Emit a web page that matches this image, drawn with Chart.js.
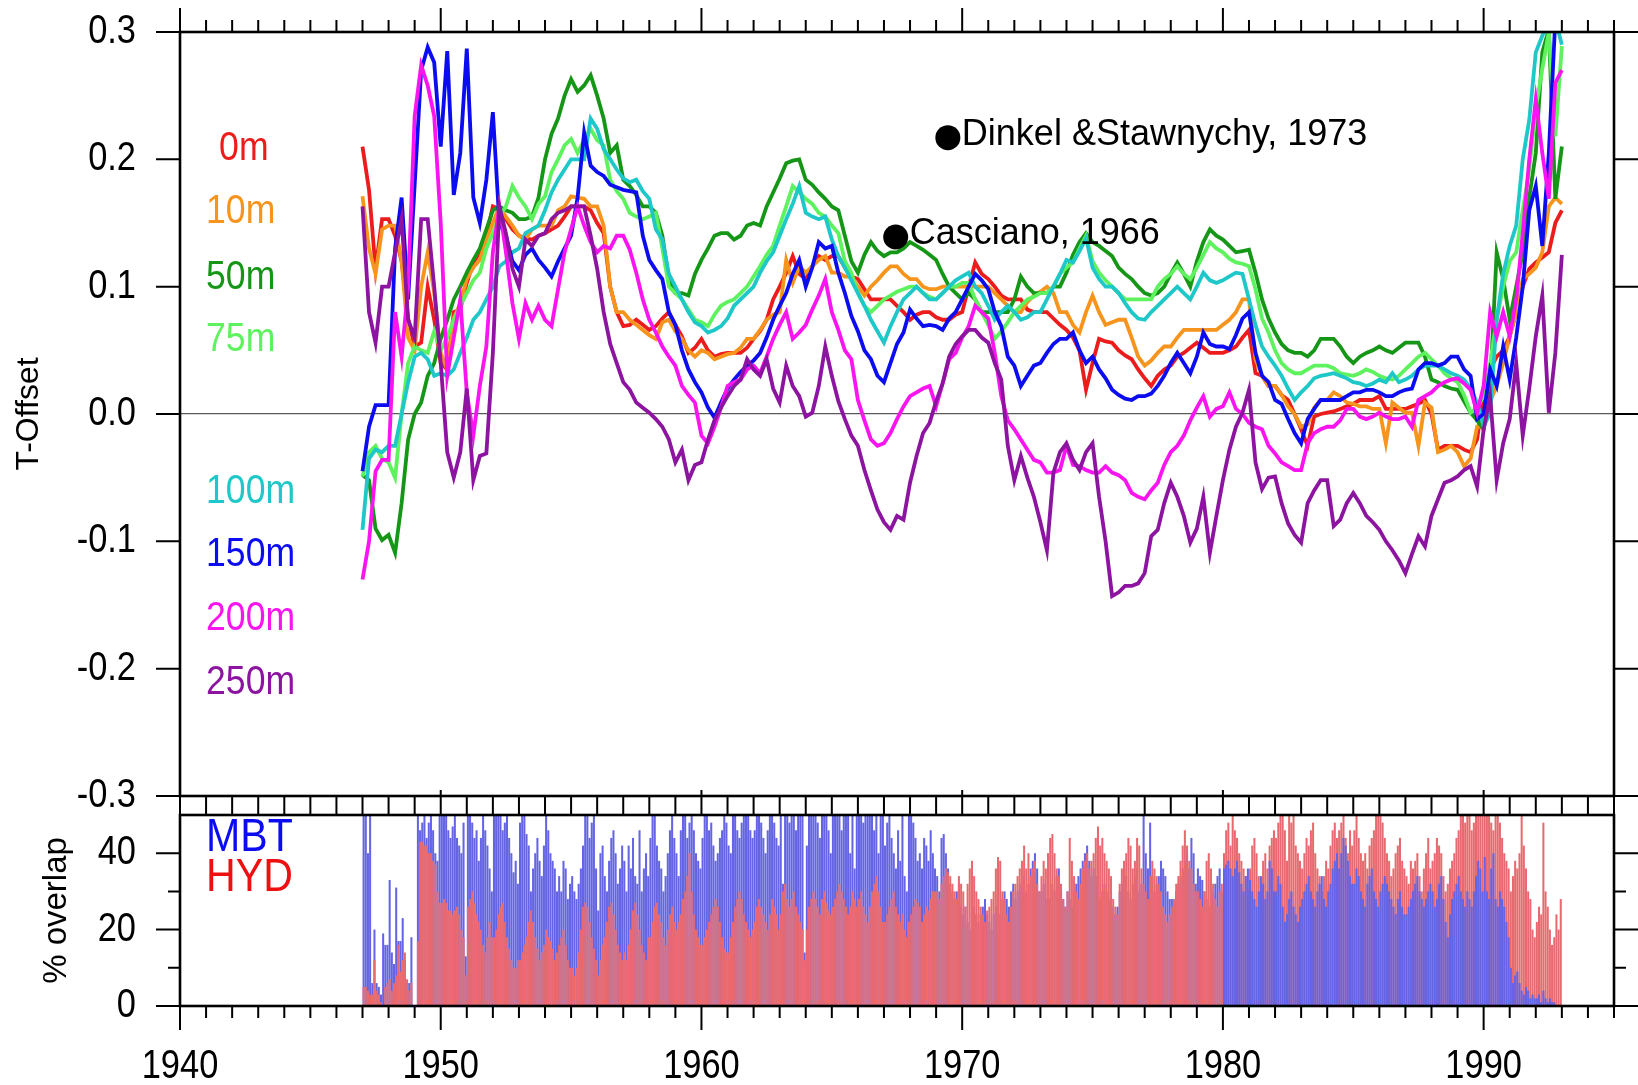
<!DOCTYPE html>
<html>
<head>
<meta charset="utf-8">
<script src="https://cdn.jsdelivr.net/npm/chart.js@4.4.1/dist/chart.umd.min.js"></script>
<style>
  html, body { margin: 0; padding: 0; background: #fff; width: 1638px; height: 1085px; overflow: hidden; }
  canvas { position: absolute; left: 0; top: 0; }
</style>
</head>
<body>
<canvas id="offsetChart" width="1638" height="1085"></canvas>
<canvas id="overlapChart" width="1638" height="1085"></canvas>
<script>
// ---- temperature offset by depth, quarterly from 1947.0 ----
const seriesStart = 1947;
const seriesStep = 0.25;

const offset0m = [
  0.21, 0.176, 0.114, 0.153,   0.153, 0.14, 0.12, 0.075,   0.053, 0.056, 0.1, 0.074,
  0.04, 0.035, 0.08, 0.082,    0.103, 0.119, 0.127, 0.14,  0.163, 0.161, 0.153, 0.145,
  0.14, 0.138, 0.137, 0.14,    0.142, 0.145, 0.148, 0.155, 0.163, 0.163, 0.163, 0.16,
  0.15, 0.142, 0.1, 0.08,      0.069, 0.07, 0.074, 0.07,   0.066, 0.069, 0.075, 0.08,
  0.07, 0.061, 0.048, 0.052,   0.059, 0.05, 0.045, 0.047,  0.048, 0.048, 0.048, 0.052,
  0.059, 0.065, 0.074, 0.09,   0.1, 0.111, 0.124, 0.11,    0.106, 0.116, 0.124, 0.121,
  0.124, 0.124, 0.115, 0.108,  0.106, 0.098, 0.09, 0.09,   0.09, 0.09, 0.085, 0.08,
  0.074, 0.078, 0.08, 0.08,    0.076, 0.074, 0.074, 0.078, 0.08, 0.1, 0.119, 0.11,
  0.106, 0.1, 0.093, 0.09,     0.09, 0.09, 0.082, 0.08,    0.08, 0.08, 0.075, 0.07,
  0.066, 0.06, 0.05, 0.019,    0.04, 0.059, 0.057, 0.056,  0.05, 0.046, 0.043, 0.035,
  0.028, 0.022, 0.03, 0.035,   0.038, 0.045, 0.048, 0.052, 0.056, 0.052, 0.048, 0.048,
  0.048, 0.05, 0.053, 0.06,    0.066, 0.032, 0.03, 0.022,  0.022, 0.015, 0.011, 0.0,
  -0.012, -0.025, -0.002, 0.0, 0.001, 0.002, 0.004, 0.006, 0.008, 0.011, 0.011, 0.011,
  0.014, 0.004, 0.004, 0.004,  0.004, 0.006, 0.008, 0.011, 0.0, -0.028, -0.025, -0.025,
  -0.025, -0.028, -0.03, -0.02, 0.017, 0.035, 0.045, 0.05, 0.061, 0.08, 0.1, 0.114,
  0.119, 0.123, 0.127, 0.15,   0.16
];
const offset10m = [
  0.171, 0.13, 0.11, 0.145,    0.148, 0.148, 0.12, 0.06,   0.05, 0.1, 0.127, 0.095,
  0.048, 0.035, 0.075, 0.087,  0.106, 0.115, 0.121, 0.137, 0.15, 0.163, 0.155, 0.148,
  0.14, 0.137, 0.145, 0.148,   0.148, 0.148, 0.16, 0.163,  0.171, 0.17, 0.169, 0.163,
  0.163, 0.148, 0.1, 0.08,     0.08, 0.074, 0.07, 0.066,   0.062, 0.059, 0.072, 0.074,
  0.065, 0.059, 0.05, 0.045,   0.05, 0.048, 0.043, 0.045,  0.047, 0.048, 0.052, 0.059,
  0.059, 0.066, 0.074, 0.078,  0.08, 0.121, 0.103, 0.116,  0.111, 0.116, 0.121, 0.124,
  0.111, 0.111, 0.108, 0.108,  0.1, 0.093, 0.1, 0.105,     0.111, 0.116, 0.116, 0.11,
  0.106, 0.106, 0.1, 0.098,    0.098, 0.1, 0.1, 0.1,       0.1, 0.1, 0.1, 0.1,
  0.1, 0.095, 0.09, 0.085,     0.08, 0.08, 0.088, 0.093,   0.096, 0.1, 0.095, 0.08,
  0.08, 0.07, 0.064, 0.08,     0.093, 0.08, 0.07, 0.072,   0.074, 0.074, 0.06, 0.045,
  0.038, 0.042, 0.048, 0.053,  0.053, 0.06, 0.066, 0.066,  0.066, 0.066, 0.066, 0.066,
  0.07, 0.074, 0.08, 0.09,     0.09, 0.043, 0.03, 0.022,   0.022, 0.015, 0.006, 0.0,
  -0.01, -0.008, 0.005, 0.011, 0.011, 0.017, 0.014, 0.009, 0.008, 0.006, 0.006, 0.004,
  0.004, -0.023, 0.009, 0.005, 0.001, 0.001, -0.025, 0.009, 0.005, -0.03, -0.028, -0.025,
  -0.03, -0.041, -0.035, -0.01, -0.01, 0.01, 0.022, 0.04,  0.061, 0.08, 0.106, 0.11,
  0.115, 0.127, 0.163, 0.17,   0.165
];
const offset50m = [
  -0.048, -0.052, -0.09, -0.099, -0.095, -0.109, -0.07, -0.02, 0.0, 0.009, 0.03, 0.04,
  0.059, 0.074, 0.09, 0.1,     0.111, 0.121, 0.13, 0.145,  0.16, 0.163, 0.16, 0.158,
  0.153, 0.153, 0.155, 0.17,   0.2, 0.22, 0.232, 0.25,     0.263, 0.253, 0.258, 0.266,
  0.25, 0.232, 0.205, 0.211,   0.184, 0.179, 0.172, 0.163, 0.163, 0.158, 0.14, 0.106,
  0.095, 0.095, 0.093, 0.11,   0.121, 0.13, 0.14, 0.142,   0.142, 0.137, 0.14, 0.148,
  0.15, 0.148, 0.163, 0.174,   0.185, 0.197, 0.199, 0.2,   0.184, 0.18, 0.174, 0.169,
  0.163, 0.16, 0.14, 0.12,     0.111, 0.125, 0.135, 0.128, 0.124, 0.127, 0.127, 0.13,
  0.135, 0.132, 0.129, 0.125,  0.121, 0.11, 0.1, 0.095,    0.09, 0.095, 0.09, 0.08,
  0.08, 0.08, 0.08, 0.08,      0.09, 0.108, 0.1, 0.095,    0.095, 0.095, 0.1, 0.1,
  0.111, 0.125, 0.135, 0.142,  0.135, 0.132, 0.128, 0.124, 0.115, 0.11, 0.106, 0.1,
  0.095, 0.093, 0.095, 0.1,    0.11, 0.119, 0.11, 0.1,     0.12, 0.135, 0.145, 0.14,
  0.137, 0.132, 0.127, 0.128,  0.129, 0.111, 0.09, 0.075,  0.064, 0.055, 0.05, 0.048,
  0.048, 0.045, 0.05, 0.059,   0.059, 0.059, 0.053, 0.045, 0.04, 0.045, 0.048, 0.05,
  0.053, 0.05, 0.048, 0.052,   0.056, 0.056, 0.056, 0.045, 0.027, 0.025, 0.022, 0.02,
  0.019, 0.01, 0.001, -0.005,  -0.012, 0.022, 0.127, 0.106, 0.074, 0.1, 0.127, 0.17,
  0.205, 0.284, 0.302, 0.169,  0.21
];
const offset75m = [
  -0.049, -0.03, -0.025, -0.035, -0.038, -0.05, 0.0, 0.04, 0.053, 0.05, 0.048, 0.065,
  0.05, 0.06, 0.074, 0.085,    0.095, 0.105, 0.111, 0.13,  0.142, 0.155, 0.163, 0.179,
  0.17, 0.163, 0.153, 0.165,   0.171, 0.19, 0.2, 0.211,    0.216, 0.205, 0.215, 0.224,
  0.215, 0.211, 0.184, 0.175,  0.169, 0.158, 0.155, 0.153, 0.155, 0.158, 0.13, 0.1,
  0.095, 0.09, 0.082, 0.074,   0.072, 0.069, 0.078, 0.085, 0.088, 0.09, 0.095, 0.1,
  0.108, 0.116, 0.125, 0.132,  0.148, 0.163, 0.179, 0.174, 0.169, 0.165, 0.158, 0.155,
  0.148, 0.142, 0.12, 0.111,   0.095, 0.085, 0.08, 0.085,  0.09, 0.093, 0.096, 0.098,
  0.1, 0.1, 0.095, 0.092,      0.09, 0.095, 0.1, 0.1,      0.103, 0.103, 0.09, 0.08,
  0.07, 0.059, 0.065, 0.072,   0.08, 0.085, 0.09, 0.092,   0.095, 0.095, 0.1, 0.11,
  0.115, 0.119, 0.13, 0.14,    0.12, 0.111, 0.105, 0.1,    0.095, 0.09, 0.09, 0.09,
  0.09, 0.09, 0.1, 0.106,      0.11, 0.116, 0.11, 0.106,   0.115, 0.125, 0.135, 0.13,
  0.127, 0.122, 0.119, 0.118,  0.116, 0.098, 0.075, 0.064, 0.05, 0.04, 0.035, 0.032,
  0.032, 0.035, 0.038, 0.038,  0.038, 0.036, 0.032, 0.031, 0.03, 0.032, 0.035, 0.033,
  0.03, 0.028, 0.027, 0.03,    0.035, 0.04, 0.045, 0.048,  0.043, 0.038, 0.032, 0.028,
  0.025, 0.015, 0.001, 0.005,  0.014, 0.04, 0.074, 0.1,    0.12, 0.127, 0.16, 0.192,
  0.24, 0.271, 0.3, 0.218,     0.289
];
const offset100m = [
  -0.091, -0.035, -0.028, -0.03, -0.025, -0.025, 0.0, 0.025, 0.045, 0.048, 0.043, 0.03,
  0.032, 0.03, 0.035, 0.048,   0.06, 0.074, 0.08, 0.09,    0.1, 0.116, 0.12, 0.127,
  0.13, 0.142, 0.145, 0.148,   0.16, 0.174, 0.184, 0.192,  0.2, 0.2, 0.2, 0.232,
  0.224, 0.208, 0.2, 0.192,    0.185, 0.182, 0.184, 0.175, 0.169, 0.145, 0.137, 0.11,
  0.1, 0.09, 0.08, 0.072,      0.069, 0.064, 0.066, 0.069, 0.075, 0.085, 0.09, 0.095,
  0.1, 0.111, 0.12, 0.127,     0.14, 0.153, 0.165, 0.179,  0.158, 0.155, 0.153, 0.155,
  0.137, 0.124, 0.115, 0.105,  0.095, 0.085, 0.074, 0.065, 0.056, 0.069, 0.08, 0.09,
  0.095, 0.1, 0.095, 0.09,     0.09, 0.095, 0.1, 0.105,    0.108, 0.111, 0.1, 0.095,
  0.085, 0.074, 0.08, 0.085,   0.08, 0.074, 0.076, 0.08,   0.08, 0.09, 0.1, 0.11,
  0.121, 0.119, 0.128, 0.138,  0.115, 0.106, 0.1, 0.1,     0.095, 0.087, 0.08, 0.075,
  0.074, 0.08, 0.085, 0.09,    0.095, 0.1, 0.095, 0.09,    0.1, 0.111, 0.105, 0.103,
  0.105, 0.108, 0.111, 0.11,   0.09, 0.07, 0.053, 0.045,   0.038, 0.03, 0.02, 0.011,
  0.017, 0.022, 0.028, 0.03,   0.031, 0.032, 0.03, 0.028,  0.025, 0.024, 0.022, 0.024,
  0.027, 0.025, 0.032, 0.025,  0.027, 0.03, 0.035, 0.038,  0.038, 0.038, 0.035, 0.032,
  0.03, 0.027, 0.02, 0.009,    -0.01, 0.001, 0.074, 0.11,  0.132, 0.148, 0.2, 0.231,
  0.284, 0.297, 0.31, 0.31,    0.29
];
const offset150m = [
  -0.045, -0.01, 0.007, 0.007, 0.007, 0.13, 0.17, 0.09,    0.18, 0.27, 0.288, 0.276,
  0.21, 0.285, 0.172, 0.205,   0.287, 0.17, 0.15, 0.184,   0.237, 0.15, 0.14, 0.12,
  0.113, 0.125, 0.13, 0.121,   0.115, 0.108, 0.12, 0.13,   0.14, 0.17, 0.221, 0.195,
  0.19, 0.187, 0.18, 0.178,    0.176, 0.175, 0.174, 0.14,  0.121, 0.113, 0.106, 0.08,
  0.07, 0.05, 0.035, 0.025,    0.017, 0.005, -0.003, 0.009, 0.02, 0.027, 0.033, 0.038,
  0.042, 0.048, 0.06, 0.074,   0.085, 0.095, 0.11, 0.121,  0.1, 0.115, 0.135, 0.13,
  0.132, 0.111, 0.095, 0.077,  0.065, 0.05, 0.043, 0.03,   0.025, 0.04, 0.055, 0.064,
  0.082, 0.075, 0.069, 0.07,   0.069, 0.066, 0.075, 0.08,  0.09, 0.1, 0.11, 0.105,
  0.098, 0.08, 0.069, 0.045,   0.038, 0.022, 0.03, 0.038,  0.04, 0.048, 0.055, 0.059,
  0.059, 0.064, 0.05, 0.04,    0.045, 0.035, 0.028, 0.019, 0.015, 0.012, 0.011, 0.014,
  0.014, 0.016, 0.022, 0.03,   0.04, 0.048, 0.04, 0.032,   0.045, 0.064, 0.055, 0.053,
  0.053, 0.051, 0.062, 0.075,  0.08, 0.048, 0.03, 0.025,   0.011, 0.008, -0.004, -0.015,
  -0.023, -0.004, 0.004, 0.011, 0.011, 0.011, 0.011, 0.014, 0.017, 0.017, 0.019, 0.019,
  0.017, 0.014, 0.014, 0.017,  0.019, 0.02, 0.035, 0.04,   0.04, 0.038, 0.04, 0.045,
  0.045, 0.035, 0.03, -0.004,  0.0, 0.035, 0.022, 0.053,   0.027, 0.06, 0.1, 0.16,
  0.179, 0.132, 0.205, 0.31,   0.32
];
const offset200m = [
  -0.13, -0.1, -0.045, -0.036, -0.036, 0.08, 0.045, 0.1,   0.234, 0.274, 0.258, 0.234,
  0.15, 0.03, 0.06, 0.09,      0.017, -0.017, 0.022, 0.053, 0.127, 0.163, 0.127, 0.087,
  0.059, 0.087, 0.074, 0.085,  0.074, 0.069, 0.098, 0.127, 0.145, 0.163, 0.148, 0.135,
  0.127, 0.132, 0.13, 0.14,    0.14, 0.129, 0.111, 0.09,   0.074, 0.064, 0.053, 0.045,
  0.038, 0.022, 0.015, 0.009,  -0.017, -0.023, -0.01, 0.005, 0.022, 0.025, 0.027, 0.035,
  0.038, 0.032, 0.045, 0.059,  0.07, 0.08, 0.059, 0.064,   0.07, 0.082, 0.093, 0.106,
  0.08, 0.066, 0.05, 0.043,    0.011, -0.005, -0.02, -0.025, -0.023, -0.015, -0.004, 0.006,
  0.014, 0.017, 0.02, 0.022,   0.006, 0.024, 0.043, 0.048, 0.06, 0.069, 0.085, 0.08,
  0.075, 0.048, 0.014, -0.005, -0.012, -0.02, -0.028, -0.036, -0.038, -0.046, -0.046, -0.044,
  -0.025, -0.04, -0.041, -0.044, -0.046, -0.046, -0.041, -0.046, -0.048, -0.052, -0.062, -0.065,
  -0.067, -0.06, -0.054, -0.04, -0.03, -0.025, -0.017, -0.005, 0.005, 0.014, -0.002, 0.004,
  0.006, 0.017, 0.004, 0.0,    -0.007, -0.01, -0.012, -0.025, -0.031, -0.038, -0.041, -0.044,
  -0.044, -0.023, -0.015, -0.012, -0.01, -0.01, -0.005, 0.004, 0.004, -0.002, -0.004, -0.002,
  0.001, -0.002, -0.004, -0.004, -0.002, -0.01, 0.011, 0.014, 0.017, 0.022, 0.025, 0.027,
  0.028, 0.024, 0.019, 0.001,  0.022, 0.08, 0.061, 0.08,   0.061, 0.09, 0.142, 0.2,
  0.247, 0.205, 0.169, 0.26,   0.27
];
const offset250m = [
  0.163, 0.08, 0.056, 0.1,     0.1, 0.127, 0.153, 0.074,   0.06, 0.153, 0.153, 0.1,
  0.04, -0.03, -0.05, -0.03,   0.02, -0.052, -0.033, -0.031, 0.048, 0.163, 0.142, 0.114,
  0.1, 0.137, 0.132, 0.14,     0.142, 0.153, 0.158, 0.16,  0.163, 0.163, 0.163, 0.14,
  0.114, 0.08, 0.055, 0.04,    0.025, 0.019, 0.009, 0.005, 0.001, -0.004, -0.01, -0.02,
  -0.038, -0.028, -0.052, -0.04, -0.038, -0.02, -0.005, 0.005, 0.014, 0.022, 0.027, 0.043,
  0.035, 0.03, 0.043, 0.02,    0.009, 0.038, 0.022, 0.014, -0.002, 0.001, 0.022, 0.053,
  0.03, 0.01, -0.004, -0.017,  -0.025, -0.044, -0.06, -0.075, -0.085, -0.091, -0.08, -0.083,
  -0.054, -0.033, -0.015, -0.007, 0.01, 0.024, 0.045, 0.055, 0.061, 0.066, 0.066, 0.06,
  0.056, 0.04, 0.027, -0.025,  -0.052, -0.033, -0.05, -0.065, -0.085, -0.107, -0.046, -0.03,
  -0.023, -0.036, -0.044, -0.03, -0.023, -0.065, -0.1, -0.143, -0.14, -0.135, -0.135, -0.133,
  -0.125, -0.096, -0.091, -0.07, -0.054, -0.065, -0.08, -0.101, -0.09, -0.065, -0.109, -0.08,
  -0.052, -0.028, -0.01, 0.001, 0.019, -0.038, -0.059, -0.05, -0.049, -0.07, -0.086, -0.095,
  -0.101, -0.07, -0.06, -0.052, -0.052, -0.088, -0.083, -0.07, -0.062, -0.07, -0.08, -0.085,
  -0.091, -0.1, -0.107, -0.115, -0.125, -0.11, -0.096, -0.104, -0.08, -0.067, -0.054, -0.052,
  -0.049, -0.044, -0.041, -0.057, -0.012, 0.014, -0.052, -0.023, -0.004, 0.04, -0.017, 0.02,
  0.061, 0.093, 0.001, 0.048,  0.125
];

const depthNames  = ['0m', '10m', '50m', '75m', '100m', '150m', '200m', '250m'];
const depthSeries = [offset0m, offset10m, offset50m, offset75m, offset100m, offset150m, offset200m, offset250m];
const depthColors = ['#ec1c1c', '#f7941d', '#169616', '#5ef25e', '#1ec8c8', '#0c0cf0', '#fa14f0', '#8c14a0'];

// literature estimates marked on the offset panel
const refNames   = ['Dinkel &Stawnychy, 1973', 'Casciano, 1966'];
const refYears   = [1969.45, 1967.45];
const refOffsets = [0.217, 0.139];

// ---- monthly share of overlapping profiles (%), from Jan 1947 ----
const overlapStart = 1947;
const frontSwitchYear = 1980;   // HYD drawn in front before this year, MBT from it on
const mbtPercent = [
  50,50,40,50,6,20,6,5,3,19,16,16,      33,14,11,31,17,17,23,12,6,6,18,0,
  0,55,46,48,55,44,48,55,46,40,38,55,   55,55,55,46,44,47,55,44,42,40,48,13,
  55,55,48,44,46,38,44,55,46,42,36,30,  55,55,55,55,46,48,55,44,40,35,38,32,
  48,55,55,45,42,30,36,40,44,38,34,42,  55,46,40,38,36,30,34,30,38,36,28,32,
  34,30,28,32,36,42,55,55,44,48,55,36,  25,40,42,34,30,38,44,46,40,32,36,42,
  38,30,42,36,44,34,32,46,30,36,40,34,  44,55,55,42,38,36,30,34,40,46,55,44,
  40,34,46,55,55,44,48,55,46,40,38,36,  44,55,55,46,48,42,38,40,44,46,55,48,
  42,40,55,55,46,44,48,55,55,55,46,44,  46,55,55,48,44,40,46,55,55,48,44,42,
  55,32,55,55,48,55,55,46,55,55,55,14,  42,55,55,55,55,48,44,55,55,55,46,40,
  55,55,55,55,46,55,55,55,40,55,36,55,  55,55,48,55,55,55,55,46,55,40,55,55,
  42,48,55,44,40,36,46,38,55,34,30,55,  55,48,44,38,40,36,44,42,38,46,40,36,
  34,30,44,45,40,36,32,30,28,30,32,26,  24,26,22,20,24,26,24,22,24,26,28,24,
  22,20,24,26,22,24,28,30,28,26,30,32,  28,30,32,30,34,30,32,36,38,40,36,30,
  30,32,28,26,28,32,30,34,36,30,28,26,  30,28,26,30,32,34,36,38,40,42,38,34,
  36,34,30,28,30,32,30,28,30,26,24,26,  30,32,36,34,30,28,32,34,36,30,32,55,
  40,36,48,34,30,32,34,38,36,34,30,28,  28,26,30,32,34,36,38,40,36,44,40,32,
  36,34,33,30,28,26,28,30,32,34,36,30,  36,37,38,36,34,36,38,35,32,30,34,36,
  33,30,28,26,30,34,32,28,30,38,36,30,  30,34,32,26,22,24,28,30,26,24,22,26,
  28,30,32,34,30,28,26,30,32,34,28,26,  30,32,36,38,40,36,40,44,42,38,34,32,
  32,36,34,30,28,26,32,34,36,30,28,26,  30,32,34,32,30,28,26,24,28,30,26,24,
  24,26,28,30,32,34,30,28,26,28,30,32,  30,26,28,32,34,28,22,18,24,28,30,32,
  34,30,28,26,30,28,26,30,34,38,36,30,  39,30,28,36,40,28,26,30,28,26,22,18,
  10,6,8,9,6,4,3,5,4,2,3,2,             2,3,1,4,2,1,2,1,1,0,0,0
];
const hydPercent = [
  5,5,4,3,3,12,4,3,1,0,5,6,             7,4,6,8,16,9,12,14,7,4,6,0,
  0,17,43,43,42,42,40,40,38,37,30,27,   27,28,27,25,25,24,25,26,24,20,18,8,
  26,28,30,27,24,22,20,16,14,18,22,18,  18,20,24,26,27,22,18,15,12,10,10,12,
  12,14,16,18,22,25,22,18,15,12,14,16,  20,18,17,15,12,14,16,18,20,16,12,10,
  10,8,10,14,20,26,27,26,22,18,15,12,   8,12,16,18,22,26,27,24,20,16,14,12,
  14,12,16,20,25,27,24,20,16,14,12,18,  18,22,26,27,24,22,18,16,20,24,26,22,
  20,22,24,28,30,34,40,30,24,20,18,16,  16,18,20,22,24,26,28,26,22,18,15,14,
  14,18,22,26,28,30,28,24,22,20,18,20,  22,26,28,26,24,22,20,24,28,26,24,20,
  24,30,32,28,26,28,30,26,24,22,20,12,  20,26,28,30,28,26,24,28,30,27,25,24,
  26,28,30,32,30,28,26,24,26,30,28,26,  28,30,26,24,22,26,30,32,34,30,26,22,
  22,24,26,28,30,26,24,22,24,20,18,22,  24,26,28,27,26,22,24,26,25,28,30,30,
  30,28,32,34,36,35,34,32,30,28,34,32,  30,26,32,36,38,34,30,28,26,24,22,25,
  26,28,30,36,39,38,30,28,24,22,26,30,  32,34,36,38,42,36,40,34,36,38,32,30,
  34,38,36,40,44,45,40,36,34,32,28,26,  30,44,38,34,30,28,32,36,38,40,36,38,
  40,44,47,42,44,40,38,36,34,28,26,24,  32,36,38,40,44,42,36,38,44,42,36,32,
  30,28,34,38,36,34,32,30,26,24,22,24,  26,28,32,34,38,42,46,42,38,36,32,30,
  30,28,26,30,38,40,36,32,28,26,30,32,  40,46,48,42,55,46,44,40,38,36,34,30,
  36,42,44,40,34,30,38,40,36,42,44,46,  44,48,55,55,46,38,55,48,55,42,40,38,
  36,40,44,42,46,48,40,36,34,30,34,38,  36,42,46,48,44,46,48,55,44,40,46,42,
  46,55,44,40,38,40,36,42,44,46,55,55,  55,48,44,40,38,34,36,40,42,44,38,36,
  34,32,38,36,38,40,34,30,36,40,44,36,  38,40,44,42,40,34,30,32,36,38,40,44,
  46,55,55,48,55,55,46,48,55,55,55,55,  55,55,55,48,46,55,55,48,44,40,38,36,
  30,34,38,36,40,55,42,36,30,28,20,18,  22,26,24,48,30,26,20,16,18,24,20,28
];

const mbtColor = '#6464e4';
const hydColor = '#e86a70';

// ---- shared drawing helpers ----
const FONT = "'Liberation Sans', Arial, sans-serif";

// text squeezed horizontally to the narrow Helvetica look of the plot
function narrowText(ctx, text, x, y, align, size, squeeze, color) {
  ctx.save();
  ctx.font = size + 'px ' + FONT;
  ctx.fillStyle = color || '#000';
  ctx.textBaseline = 'middle';
  ctx.textAlign = align;
  ctx.translate(x, y);
  ctx.scale(squeeze, 1);
  ctx.fillText(text, 0, 0);
  ctx.restore();
}

// frame around the plot area, outward tick marks and tick labels
const framePlugin = {
  id: 'frame',
  afterDatasetsDraw(chart, args, o) {
    const { ctx, chartArea: a } = chart;
    const xs = chart.scales.x, ys = chart.scales.y;
    ctx.save();
    ctx.strokeStyle = '#000';
    ctx.lineWidth = 2;
    ctx.beginPath();
    for (let v = Math.ceil(xs.min); v <= xs.max; v++) {
      const px = xs.getPixelForValue(v);
      const major = v % 10 === 0;
      o.xTicks.forEach(t => {
        const len = major ? t.major : t.minor;
        const y0 = t.edge === 'top' ? a.top : a.bottom;
        const dir = t.edge === 'top' ? -1 : 1;
        ctx.moveTo(px, y0);
        ctx.lineTo(px, y0 + dir * len);
      });
    }
    ys.ticks.forEach(t => {
      const len = o.yLen(t.value);
      if (!len) return;
      const py = ys.getPixelForValue(t.value);
      ctx.moveTo(a.left, py);  ctx.lineTo(a.left - len, py);
      ctx.moveTo(a.right, py); ctx.lineTo(a.right + len, py);
    });
    ctx.stroke();
    ctx.lineWidth = 2.6;
    ctx.strokeRect(a.left, a.top, a.right - a.left, a.bottom - a.top);
    ctx.restore();

    // tick labels taken from the scales
    ys.ticks.forEach(t => {
      const txt = o.yLabel(t.value);
      if (txt) narrowText(ctx, txt, a.left - 44, ys.getPixelForValue(t.value), 'right', 40, 0.86);
    });
    if (o.xLabels) {
      xs.ticks.forEach(t => {
        if (t.value % 10 === 0) {
          narrowText(ctx, String(t.value), xs.getPixelForValue(t.value), a.bottom + 61, 'center', 40, 0.86);
        }
      });
    }
  }
};

// coloured depth names and literature labels
const offsetLabels = {
  id: 'offsetLabels',
  afterDatasetsDraw(chart, args, o) {
    const { ctx } = chart;
    const xs = chart.scales.x, ys = chart.scales.y;
    depthNames.forEach((name, i) => {
      narrowText(ctx, name, xs.getPixelForValue(o.nameYears[i]), ys.getPixelForValue(o.nameOffsets[i]),
                 'left', 40, 0.89, depthColors[i]);
    });
    ctx.save();
    ctx.font = '36px ' + FONT;
    ctx.fillStyle = '#000';
    ctx.textBaseline = 'middle';
    ctx.textAlign = 'left';
    refNames.forEach((name, i) => {
      ctx.fillText(name, xs.getPixelForValue(refYears[i]) + 14, ys.getPixelForValue(refOffsets[i]) - 3);
    });
    ctx.restore();
  }
};

const overlapLabels = {
  id: 'overlapLabels',
  afterDatasetsDraw(chart, args, o) {
    const { ctx } = chart;
    const xs = chart.scales.x, ys = chart.scales.y;
    narrowText(ctx, 'MBT', xs.getPixelForValue(o.x), ys.getPixelForValue(o.mbtY), 'left', 47, 0.875, '#0c0cf0');
    narrowText(ctx, 'HYD', xs.getPixelForValue(o.x), ys.getPixelForValue(o.hydY), 'left', 47, 0.875, '#ee1010');
  }
};

// keep the plot areas exactly where the axes are fitted
function fixedAxis(size, horizontal) {
  return function (s) {
    if (horizontal) s.height = size; else s.width = size;
    s.paddingTop = 0; s.paddingBottom = 0; s.paddingLeft = 0; s.paddingRight = 0;
  };
}

// ---- upper panel: offsets by depth ----
const lineSets = depthSeries.map((vals, i) => ({
  type: 'line',
  label: depthNames[i],
  data: vals.map((v, k) => ({ x: seriesStart + k * seriesStep, y: v })),
  borderColor: depthColors[i],
  borderWidth: 3.8,
  pointRadius: 0,
  tension: 0,
  fill: false,
  order: depthNames.length - i + 1
}));
lineSets.push({
  type: 'scatter',
  label: 'references',
  data: refYears.map((x, i) => ({ x, y: refOffsets[i] })),
  backgroundColor: '#000',
  borderWidth: 0,
  pointRadius: 12.5,
  order: 0
});

new Chart(document.getElementById('offsetChart'), {
  data: { datasets: lineSets },
  options: {
    responsive: false,
    animation: false,
    events: [],
    layout: { padding: { top: 32, right: 24, bottom: 289, left: 0 } },
    plugins: {
      legend: { display: false },
      tooltip: { enabled: false },
      frame: {
        xTicks: [{ edge: 'top', minor: 12, major: 24 }],
        yLen: () => 24,
        yLabel: v => (Math.abs(v) < 1e-9 ? '0.0' : Number(v).toFixed(1)),
        xLabels: false
      },
      offsetLabels: {
        nameYears:   [1941.5, 1941, 1941, 1941, 1941, 1941, 1941, 1941],
        nameOffsets: [0.208, 0.159, 0.107, 0.058, -0.061, -0.111, -0.161, -0.211]
      }
    },
    scales: {
      x: { type: 'linear', min: 1940, max: 1995, display: false },
      y: {
        type: 'linear', min: -0.3, max: 0.3,
        afterFit: fixedAxis(180, false),
        border: { display: false },
        grid: {
          drawTicks: false,
          lineWidth: 1.3,
          color: c => (c.tick && Math.abs(c.tick.value) < 1e-9) ? '#5a5a5a' : 'rgba(0,0,0,0)'
        },
        ticks: { stepSize: 0.1, display: false },
        title: {
          display: true, text: 'T-Offset', color: '#000',
          font: { family: FONT, size: 32 },
          padding: { top: 10, bottom: 0 }
        }
      }
    }
  },
  plugins: [framePlugin, offsetLabels]
});

// ---- lower panel: overlap bars ----
const backBars = [], frontBars = [], backColors = [], frontColors = [];
mbtPercent.forEach((m, i) => {
  const h = hydPercent[i];
  const x = overlapStart + (i + 0.5) / 12;
  const hydFront = x < frontSwitchYear;
  backBars.push({ x, y: hydFront ? m : h });
  frontBars.push({ x, y: hydFront ? h : m });
  backColors.push(hydFront ? mbtColor : hydColor);
  frontColors.push(hydFront ? hydColor : mbtColor);
});

new Chart(document.getElementById('overlapChart'), {
  type: 'bar',
  data: {
    datasets: [
      { label: 'front', data: frontBars, backgroundColor: frontColors, grouped: false, order: 0,
        barPercentage: 0.94, categoryPercentage: 1, borderWidth: 0 },
      { label: 'back', data: backBars, backgroundColor: backColors, grouped: false, order: 1,
        barPercentage: 0.94, categoryPercentage: 1, borderWidth: 0 }
    ]
  },
  options: {
    responsive: false,
    animation: false,
    events: [],
    layout: { padding: { top: 815, right: 24, bottom: 0, left: 0 } },
    plugins: {
      legend: { display: false },
      tooltip: { enabled: false },
      frame: {
        xTicks: [{ edge: 'top', minor: 19, major: 25 }, { edge: 'bottom', minor: 12, major: 24 }],
        yLen: v => (v === 50 ? 0 : (v % 20 === 0 ? 24 : 12)),
        yLabel: v => (v % 20 === 0 && v !== 50 ? String(v) : ''),
        xLabels: true
      },
      overlapLabels: { x: 1941, mbtY: 43.9, hydY: 33.6 }
    },
    scales: {
      x: {
        type: 'linear', min: 1940, max: 1995, offset: false,
        afterFit: fixedAxis(79, true),
        border: { display: false },
        grid: { display: false, drawTicks: false, offset: false },
        ticks: { stepSize: 10, includeBounds: false, display: false }
      },
      y: {
        type: 'linear', min: 0, max: 50,
        afterFit: fixedAxis(180, false),
        border: { display: false },
        grid: { display: false, drawTicks: false },
        ticks: { stepSize: 10, display: false },
        title: {
          display: true, text: '% overlap', color: '#000',
          font: { family: FONT, size: 33 },
          padding: { top: 37, bottom: 0 }
        }
      }
    }
  },
  plugins: [framePlugin, overlapLabels]
});
</script>
</body>
</html>
